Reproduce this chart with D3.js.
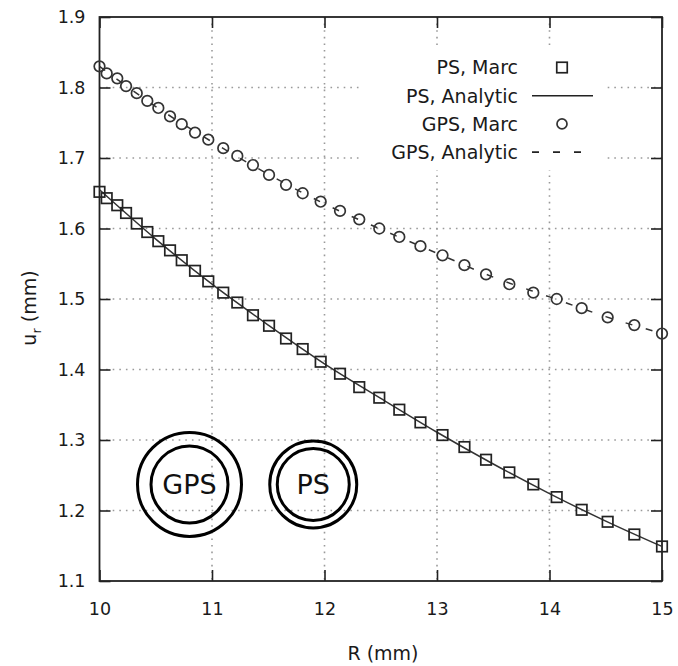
<!DOCTYPE html>
<html>
<head>
<meta charset="utf-8">
<title>u_r vs R</title>
<script src="https://d3js.org/d3.v7.min.js"></script>
<style>
body { margin: 0; background: #fff; }
svg text { font-family: "DejaVu Sans", Verdana, sans-serif; fill: #1a1a1a; }
.axis path { display: none; }
.axis line { stroke: #222; stroke-width: 1.6; }
</style>
</head>
<body>
<script>
// radius values shared by both Marc series (mm)
var rVals = [10.00, 10.064, 10.158, 10.236, 10.331, 10.425, 10.523, 10.627, 10.731, 10.849,
             10.967, 11.100, 11.225, 11.364, 11.507, 11.658, 11.806, 11.966, 12.138, 12.309,
             12.487, 12.665, 12.853, 13.049, 13.244, 13.436, 13.643, 13.856, 14.064, 14.286,
             14.517, 14.754, 15.00];
var psMarc = [1.652, 1.643, 1.633, 1.622, 1.607, 1.595, 1.582, 1.569, 1.555, 1.540,
              1.525, 1.509, 1.495, 1.477, 1.462, 1.444, 1.429, 1.411, 1.394, 1.375,
              1.360, 1.343, 1.325, 1.307, 1.290, 1.272, 1.254, 1.237, 1.219, 1.201,
              1.184, 1.166, 1.149];
var gpsMarc = [1.830, 1.820, 1.813, 1.802, 1.792, 1.781, 1.771, 1.759, 1.748, 1.736,
               1.726, 1.714, 1.703, 1.690, 1.676, 1.662, 1.650, 1.638, 1.625, 1.613,
               1.600, 1.588, 1.575, 1.562, 1.548, 1.535, 1.521, 1.509, 1.500, 1.487,
               1.474, 1.463, 1.451];
// analytic curves
var rAnalytic = [10, 10.5, 11, 11.5, 12, 12.5, 13, 13.5, 14, 14.5, 15];
var psAnalytic = [1.655, 1.585, 1.521, 1.463, 1.408, 1.359, 1.311, 1.266, 1.224, 1.185, 1.149];
var gpsAnalytic = [1.830, 1.773, 1.723, 1.677, 1.635, 1.599, 1.565, 1.531, 1.503, 1.475, 1.451];

var xTicks = [10, 11, 12, 13, 14, 15];
var yTicks = [1.1, 1.2, 1.3, 1.4, 1.5, 1.6, 1.7, 1.8, 1.9];
var legendItems = ["PS, Marc", "PS, Analytic", "GPS, Marc", "GPS, Analytic"];
// schematic cross-sections drawn inside the plot
var sketches = [{label: "GPS", r: 10.8, u: 1.237, outer: 52, inner: 38.5},
                {label: "PS", r: 11.9, u: 1.237, outer: 43.5, inner: 36}];

var width = 678, height = 666;
var pL = 99.5, pR = 662, pT = 17, pB = 581;

var svg = d3.select("body").append("svg")
  .attr("width", width).attr("height", height);

var x = d3.scaleLinear().domain([10, 15]).range([pL, pR]);
var y = d3.scaleLinear().domain([1.1, 1.9]).range([pB, pT]);

// dotted grid
var grid = svg.append("g").attr("stroke", "#9a9a9a").attr("stroke-width", 1.6)
  .attr("stroke-dasharray", "1.6,5");
grid.selectAll(".gx").data(xTicks.slice(1, -1)).enter().append("line")
  .attr("x1", d => x(d)).attr("x2", d => x(d)).attr("y1", pT).attr("y2", pB);
grid.selectAll(".gy").data(yTicks.slice(1, -1)).enter().append("line")
  .attr("y1", d => y(d)).attr("y2", d => y(d)).attr("x1", pL).attr("x2", pR);

// legend background hides the grid
svg.append("rect").attr("x", 360).attr("y", 46).attr("width", 243).attr("height", 124)
  .attr("fill", "#fff");

// axes
svg.append("g").attr("class", "axis").attr("transform", "translate(" + pL + ",0)")
  .call(d3.axisLeft(y).tickValues(yTicks).tickSizeInner(-11).tickSizeOuter(0)
    .tickPadding(14).tickFormat(d3.format(".1f")))
  .selectAll("text").style("font-size", "17.5px");
svg.append("g").attr("class", "axis").attr("transform", "translate(0," + pB + ")")
  .call(d3.axisBottom(x).tickValues(xTicks).tickSizeInner(-11).tickSizeOuter(0)
    .tickPadding(22).tickFormat(d3.format("d")))
  .selectAll("text").style("font-size", "17.5px");
svg.append("g").attr("class", "axis").attr("transform", "translate(" + pR + ",0)")
  .call(d3.axisRight(y).tickValues(yTicks).tickSizeInner(-11).tickSizeOuter(0).tickFormat(""));
svg.append("g").attr("class", "axis").attr("transform", "translate(0," + pT + ")")
  .call(d3.axisTop(x).tickValues(xTicks).tickSizeInner(-11).tickSizeOuter(0).tickFormat(""));

// frame
svg.append("rect").attr("x", pL).attr("y", pT)
  .attr("width", pR - pL).attr("height", pB - pT)
  .attr("fill", "none").attr("stroke", "#222").attr("stroke-width", 1.8);

// analytic lines
var line = d3.line().curve(d3.curveMonotoneX);
svg.append("path")
  .attr("d", line(rAnalytic.map((r, i) => [x(r), y(psAnalytic[i])])))
  .attr("fill", "none").attr("stroke", "#333").attr("stroke-width", 1.5);
svg.append("path")
  .attr("d", line(rAnalytic.map((r, i) => [x(r), y(gpsAnalytic[i])])))
  .attr("fill", "none").attr("stroke", "#333").attr("stroke-width", 1.5)
  .attr("stroke-dasharray", "7,14");

// Marc markers
var ms = 10.5;
svg.append("g").selectAll("rect").data(rVals).enter().append("rect")
  .attr("x", (d, i) => x(d) - ms / 2).attr("y", (d, i) => y(psMarc[i]) - ms / 2)
  .attr("width", ms).attr("height", ms)
  .attr("fill", "none").attr("stroke", "#222").attr("stroke-width", 1.7);
svg.append("g").selectAll("circle").data(rVals).enter().append("circle")
  .attr("cx", d => x(d)).attr("cy", (d, i) => y(gpsMarc[i])).attr("r", 5.3)
  .attr("fill", "none").attr("stroke", "#333").attr("stroke-width", 1.7);

// legend
var lg = svg.append("g");
legendItems.forEach((t, i) => {
  var ly = 67.5 + i * 28.2;
  lg.append("text").attr("x", 518).attr("y", ly).attr("dy", "0.36em")
    .attr("text-anchor", "end").style("font-size", "19px").text(t);
  if (i == 0) {
    lg.append("rect").attr("x", 562 - ms / 2).attr("y", ly - ms / 2)
      .attr("width", ms).attr("height", ms)
      .attr("fill", "none").attr("stroke", "#222").attr("stroke-width", 1.7);
  } else if (i == 2) {
    lg.append("circle").attr("cx", 562).attr("cy", ly).attr("r", 5)
      .attr("fill", "none").attr("stroke", "#333").attr("stroke-width", 1.7);
  } else {
    lg.append("line").attr("x1", 532).attr("x2", i == 1 ? 593 : 584)
      .attr("y1", ly).attr("y2", ly).attr("stroke", "#222").attr("stroke-width", 1.6)
      .attr("stroke-dasharray", i == 3 ? "7,14" : null);
  }
});

// schematic rings
var sk = svg.append("g").selectAll("g").data(sketches).enter().append("g")
  .attr("transform", d => "translate(" + x(d.r) + "," + y(d.u) + ")");
sk.append("circle").attr("r", d => d.outer).attr("fill", "none")
  .attr("stroke", "#000").attr("stroke-width", 3);
sk.append("circle").attr("r", d => d.inner).attr("fill", "none")
  .attr("stroke", "#000").attr("stroke-width", 3);
sk.append("text").attr("text-anchor", "middle").attr("dy", "0.36em")
  .style("font-size", "27px").style("fill", "#111").text(d => d.label);

// axis titles
svg.append("text").attr("x", 383).attr("y", 653).attr("dy", "0.36em")
  .attr("text-anchor", "middle").style("font-size", "19px").text("R (mm)");
var yl = svg.append("text").attr("transform", "translate(29,308) rotate(-90)")
  .attr("text-anchor", "middle").attr("dy", "0.36em").style("font-size", "19px");
yl.append("tspan").text("u");
yl.append("tspan").attr("dy", "5").style("font-size", "13px").text("r");
yl.append("tspan").attr("dy", "-5").text(" (mm)");
</script>
</body>
</html>
